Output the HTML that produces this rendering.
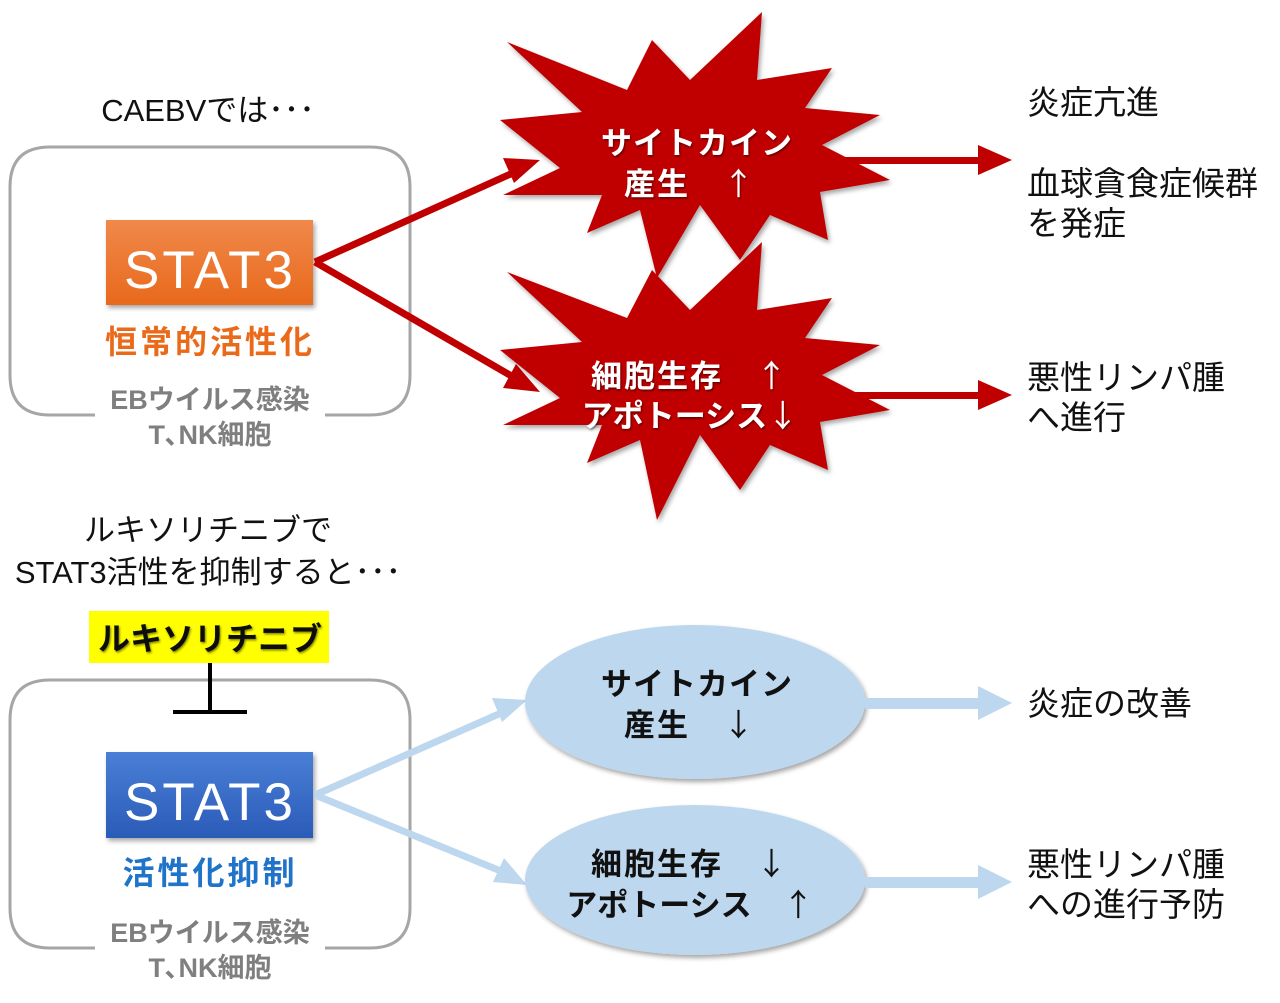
<!DOCTYPE html>
<html><head><meta charset="utf-8"><style>
html,body{margin:0;padding:0;background:#fff;}
svg{display:block;}
text{font-family:"Liberation Sans","Noto Sans CJK JP",sans-serif;}
.ar{font-family:"Noto Sans CJK JP",sans-serif;font-weight:normal;}
</style></head><body>
<svg width="1280" height="1003" viewBox="0 0 1280 1003" xmlns="http://www.w3.org/2000/svg">
<defs>
<linearGradient id="og" x1="0" y1="0" x2="0" y2="1"><stop offset="0" stop-color="#f0884a"/><stop offset="1" stop-color="#e8691c"/></linearGradient>
<linearGradient id="bg" x1="0" y1="0" x2="0" y2="1"><stop offset="0" stop-color="#4a7fd6"/><stop offset="1" stop-color="#2a5bb8"/></linearGradient>
<filter id="sh" x="-10%" y="-10%" width="130%" height="130%"><feDropShadow dx="2" dy="3" stdDeviation="2.5" flood-opacity="0.35"/></filter>
<filter id="ts"><feDropShadow dx="1" dy="1.5" stdDeviation="1" flood-opacity="0.5"/></filter>
</defs>

<text x="208" y="121" font-size="31" text-anchor="middle" fill="#111">CAEBVでは･･･</text>
<path d="M95,415 H50 Q10,415 10,375 V187 Q10,147 50,147 H370 Q410,147 410,187 V375 Q410,415 370,415 H325" fill="none" stroke="#a6a6a6" stroke-width="3"/>
<rect x="106" y="220" width="207" height="85" fill="url(#og)" filter="url(#sh)"/>
<text x="210" y="288" font-size="53" text-anchor="middle" fill="#fff" letter-spacing="3">STAT3</text>
<text x="210" y="353" font-size="32" font-weight="bold" text-anchor="middle" fill="#ea6a1a" letter-spacing="3">恒常的活性化</text>
<text x="210" y="409" font-size="27" font-weight="bold" text-anchor="middle" fill="#7f7f7f">EBウイルス感染</text>
<text x="210" y="444" font-size="27" font-weight="bold" text-anchor="middle" fill="#7f7f7f">T､NK細胞</text>

<g stroke="#c00000" stroke-width="7" fill="none"><path d="M315,262 L515,172"/><path d="M315,262 L515,378"/></g>
<polygon points="540,160 503,158 514,183" fill="#c00000"/>
<polygon points="540,392 516,364 503,388" fill="#c00000"/>

<g fill="#c00000" filter="url(#sh)">
<polygon points="507,42 627,90 652,40 690,80 762,12 757,80 832,68 805,108 880,115 822,145 890,180 820,192 828,240 770,215 740,260 700,205 657,278 640,210 587,233 602,195 503,195 560,168 500,120 582,112"/>
<polygon points="507,272 627,318 652,270 690,310 762,242 757,310 832,298 805,338 880,345 822,375 890,410 820,422 828,470 770,445 740,490 700,435 657,520 640,440 587,463 602,425 503,425 560,398 500,350 582,342"/>
</g>
<g fill="#fff" font-size="31" font-weight="bold" text-anchor="middle" filter="url(#ts)">
<text x="697" y="154" letter-spacing="1">サイトカイン</text>
<text x="690" y="195" letter-spacing="2">産生　<tspan class="ar">↑</tspan></text>
<text x="690" y="387" letter-spacing="2">細胞生存　<tspan class="ar">↑</tspan></text>
<text x="690" y="427">アポトーシス<tspan class="ar">↓</tspan></text>
</g>
<rect x="845" y="157" width="140" height="7" fill="#c00000"/>
<polygon points="978,145 1012,160 978,175" fill="#c00000"/>
<rect x="845" y="392" width="140" height="7" fill="#c00000"/>
<polygon points="978,380 1012,395 978,410" fill="#c00000"/>

<g font-size="33" fill="#111">
<text x="1027" y="114">炎症亢進</text>
<text x="1027" y="195">血球貪食症候群</text>
<text x="1027" y="235">を発症</text>
<text x="1027" y="389">悪性リンパ腫</text>
<text x="1027" y="429">へ進行</text>
</g>

<text x="208" y="541" font-size="31" text-anchor="middle" fill="#111">ルキソリチニブで</text>
<text x="208" y="583" font-size="31" text-anchor="middle" fill="#111">STAT3活性を抑制すると･･･</text>
<rect x="89" y="611" width="240" height="52" fill="#ffff00"/>
<text x="210" y="650" font-size="32" font-weight="bold" text-anchor="middle" fill="#111" filter="url(#ts)">ルキソリチニブ</text>
<path d="M95,948 H50 Q10,948 10,908 V720 Q10,680 50,680 H370 Q410,680 410,720 V908 Q410,948 370,948 H325" fill="none" stroke="#a6a6a6" stroke-width="3"/>
<path d="M210,663 V712 M173,712 H247" stroke="#000" stroke-width="4" fill="none"/>
<rect x="106" y="752" width="207" height="86" fill="url(#bg)" filter="url(#sh)"/>
<text x="210" y="820" font-size="53" text-anchor="middle" fill="#fff" letter-spacing="3">STAT3</text>
<text x="210" y="884" font-size="32" font-weight="bold" text-anchor="middle" fill="#1f73c8" letter-spacing="3">活性化抑制</text>
<text x="210" y="942" font-size="27" font-weight="bold" text-anchor="middle" fill="#7f7f7f">EBウイルス感染</text>
<text x="210" y="977" font-size="27" font-weight="bold" text-anchor="middle" fill="#7f7f7f">T､NK細胞</text>

<g stroke="#bdd7ee" stroke-width="7" fill="none"><path d="M315,795 L508,710"/><path d="M315,795 L508,874"/></g>
<polygon points="527,700 492,698 502,722" fill="#bdd7ee"/>
<polygon points="527,885 504,858 493,882" fill="#bdd7ee"/>

<g fill="#bdd7ee" filter="url(#sh)">
<ellipse cx="695" cy="702" rx="170" ry="77"/>
<ellipse cx="695" cy="880" rx="170" ry="75"/>
</g>
<g fill="#111" font-size="31" font-weight="bold" text-anchor="middle">
<text x="697" y="695" letter-spacing="1">サイトカイン</text>
<text x="690" y="736" letter-spacing="2">産生　<tspan class="ar">↓</tspan></text>
<text x="690" y="875" letter-spacing="2">細胞生存　<tspan class="ar">↓</tspan></text>
<text x="690" y="916">アポトーシス　<tspan class="ar">↑</tspan></text>
</g>
<rect x="865" y="698" width="115" height="11" fill="#bdd7ee"/>
<polygon points="978,686 1012,703 978,720" fill="#bdd7ee"/>
<rect x="865" y="877" width="115" height="11" fill="#bdd7ee"/>
<polygon points="978,865 1012,882 978,899" fill="#bdd7ee"/>

<g font-size="33" fill="#111">
<text x="1027" y="715">炎症の改善</text>
<text x="1027" y="876">悪性リンパ腫</text>
<text x="1027" y="916">への進行予防</text>
</g>
</svg>
</body></html>
